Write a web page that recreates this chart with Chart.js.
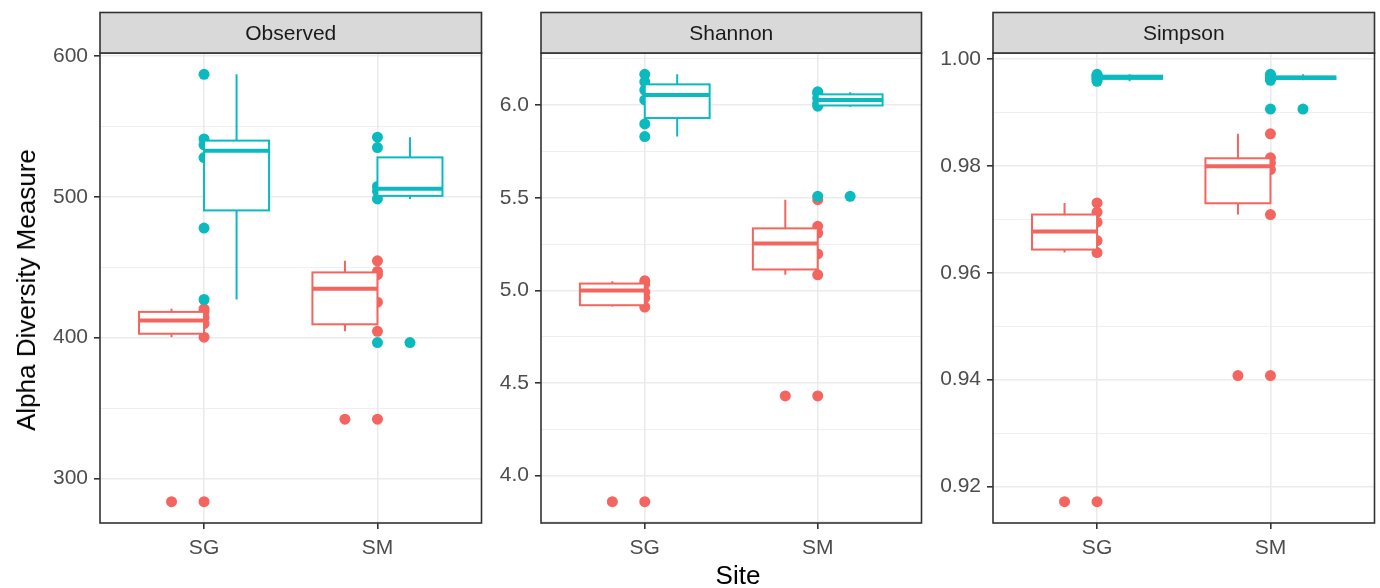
<!DOCTYPE html>
<html>
<head>
<meta charset="utf-8">
<script src="https://cdn.jsdelivr.net/npm/chart.js@4.4.1/dist/chart.umd.min.js"></script>
<style>
  body { margin: 0; background: #fff; width: 1380px; height: 588px; overflow: hidden; position: relative; font-family: "Liberation Sans", Arial, sans-serif; }
  canvas { position: absolute; top: 0; }
  #ytitle { position: absolute; left: 26px; top: 290px; transform: translate(-50%, -50%) rotate(-90deg); font-size: 26px; white-space: nowrap; line-height: 1; color: #000; }
  #xtitle { position: absolute; left: 738px; top: 575px; transform: translate(-50%, -50%); font-size: 26px; line-height: 1; color: #000; }
</style>
</head>
<body>
<canvas id="observed"></canvas>
<canvas id="shannon"></canvas>
<canvas id="simpson"></canvas>
<div id="ytitle">Alpha Diversity Measure</div>
<div id="xtitle">Site</div>
<script>
const SITES = ['SG', 'SM'];
const COLORS = ['#F3655E', '#0BBABF'];

// Observed  (each inner array: SG, SM)
const observedTicks = [300, 400, 500, 600];
const observedRedPts = [[420.5, 418.5, 414.4, 410.0, 400.4, 283.7], [454.5, 447.0, 444.8, 425.2, 404.5, 342.2]];
const observedTealPts = [[586.8, 541.0, 536.8, 527.8, 477.8, 427.1], [542.2, 534.9, 507.3, 503.8, 498.4, 396.5]];
// box stats: lower whisker, q1, median, q3, upper whisker
const observedRedBox = [[400.4, 402.8, 412.2, 418.3, 420.5], [404.5, 409.5, 434.8, 446.3, 454.5]];
const observedTealBox = [[427.1, 490.3, 532.6, 539.8, 586.8], [498.4, 500.6, 505.6, 527.9, 542.2]];
const observedRedOut = [[283.7], [342.2]];
const observedTealOut = [[], [396.5]];

// Shannon
const shannonTicks = [4.0, 4.5, 5.0, 5.5, 6.0];
const shannonRedPts = [[5.052, 5.035, 4.990, 4.960, 4.910, 3.859], [5.490, 5.346, 5.310, 5.197, 5.084, 4.430]];
const shannonTealPts = [[6.167, 6.127, 6.082, 6.029, 5.899, 5.831], [6.073, 6.065, 6.038, 6.011, 5.995, 5.508]];
const shannonRedBox = [[4.913, 4.920, 5.000, 5.037, 5.050], [5.084, 5.113, 5.254, 5.335, 5.490]];
const shannonTealBox = [[5.831, 5.931, 6.055, 6.113, 6.167], [5.992, 5.999, 6.029, 6.059, 6.070]];
const shannonRedOut = [[3.859], [4.430]];
const shannonTealOut = [[], [5.508]];

// Simpson
const simpsonTicks = [0.92, 0.94, 0.96, 0.98, 1.00];
const simpsonRedPts = [[0.97306, 0.97132, 0.96945, 0.96601, 0.96377, 0.91718], [0.98597, 0.98150, 0.98050, 0.97930, 0.97088, 0.94076]];
const simpsonTealPts = [[0.9971, 0.9969, 0.9967, 0.9965, 0.9962, 0.9958], [0.9971, 0.9968, 0.9966, 0.9963, 0.9960, 0.9906]];
const simpsonRedBox = [[0.96377, 0.96433, 0.96773, 0.97088, 0.97306], [0.97088, 0.97299, 0.97990, 0.98140, 0.98597]];
const simpsonTealBox = [[0.9958, 0.99625, 0.99660, 0.99685, 0.9971], [0.9960, 0.99625, 0.99645, 0.99670, 0.9971]];
const simpsonRedOut = [[0.91718], [0.94076]];
const simpsonTealOut = [[], [0.9906]];

const DODGE = 0.1875;
const Y_AXIS_W = 70;
const STRIP_TOP = 12.5;
const PLOT_TOP = 53;
const PLOT_BOTTOM = 523;
const X_AXIS_H = 40;

Chart.defaults.font.family = '"Liberation Sans", Arial, sans-serif';

const boxPlugin = {
  id: 'ggbox',
  afterDatasetsDraw(chart, args, opts) {
    const { ctx, chartArea: a, scales: { x, y } } = chart;
    ctx.save();
    ctx.beginPath();
    ctx.rect(a.left, a.top, a.width, a.height);
    ctx.clip();
    ctx.lineCap = 'butt';
    opts.boxes.forEach((groupBoxes, g) => {
      const off = g === 0 ? -DODGE : DODGE;
      groupBoxes.forEach((b, s) => {
        const cx = s + 1 + off;
        const px = x.getPixelForValue(cx);
        const xl = x.getPixelForValue(cx - DODGE);
        const xr = x.getPixelForValue(cx + DODGE);
        const [lo, q1, med, q3, hi] = b.map(v => y.getPixelForValue(v));
        ctx.strokeStyle = COLORS[g];
        ctx.lineWidth = 2;
        ctx.beginPath();
        ctx.moveTo(px, q3); ctx.lineTo(px, hi);
        ctx.moveTo(px, q1); ctx.lineTo(px, lo);
        ctx.stroke();
        ctx.fillStyle = '#fff';
        ctx.fillRect(xl, q3, xr - xl, q1 - q3);
        ctx.strokeRect(xl, q3, xr - xl, q1 - q3);
        ctx.lineWidth = 4;
        ctx.beginPath();
        ctx.moveTo(xl, med); ctx.lineTo(xr, med);
        ctx.stroke();
      });
    });
    ctx.restore();
  },
  afterDraw(chart, args, opts) {
    const { ctx, chartArea: a } = chart;
    ctx.save();
    ctx.strokeStyle = '#333333';
    ctx.lineWidth = 1.6;
    ctx.strokeRect(a.left, a.top, a.width, a.bottom - a.top);
    ctx.fillStyle = '#D9D9D9';
    ctx.fillRect(a.left, STRIP_TOP, a.width, a.top - STRIP_TOP);
    ctx.strokeRect(a.left, STRIP_TOP, a.width, a.top - STRIP_TOP);
    ctx.fillStyle = '#1A1A1A';
    ctx.font = '21px "Liberation Sans", Arial, sans-serif';
    ctx.textAlign = 'center';
    ctx.textBaseline = 'middle';
    ctx.fillText(opts.title, (a.left + a.right) / 2, (STRIP_TOP + a.top) / 2 + 1);
    ctx.restore();
  }
};

function near(a, b) { return Math.abs(a - b) < 1e-9; }

function makePanel(id, title, plotLeft, plotRight, ticks, digits, redPts, tealPts, redBox, tealBox, redOut, tealOut) {
  const all = redPts.flat().concat(tealPts.flat());
  const lo = Math.min(...all), hi = Math.max(...all);
  const pad = (hi - lo) * 0.05;
  const step = ticks[1] - ticks[0];
  const gridVals = [];
  for (let i = -1; i < ticks.length; i++) {
    if (i >= 0) gridVals.push(ticks[i]);
    const m = (i >= 0 ? ticks[i] : ticks[0] - step) + step / 2;
    if (m > lo - pad && m < hi + pad) gridVals.push(m);
  }
  gridVals.sort((p, q) => p - q);
  const isMajor = v => ticks.some(t => near(t, v));

  const canvas = document.getElementById(id);
  canvas.width = Y_AXIS_W + (plotRight - plotLeft) + 3;
  canvas.height = 588;
  canvas.style.left = (plotLeft - Y_AXIS_W) + 'px';

  const pts = (vals, xv) => vals.map(v => ({ x: xv, y: v }));
  const datasets = [];
  // teal first so it sits on top of red
  [[tealPts, 1], [redPts, 0]].forEach(([set, g]) => {
    datasets.push({
      data: set.flatMap((vals, s) => pts(vals, s + 1)),
      backgroundColor: COLORS[g], borderWidth: 0, pointRadius: 5.5, pointHoverRadius: 5.5
    });
  });
  [[redOut, 0], [tealOut, 1]].forEach(([set, g]) => {
    const off = g === 0 ? -DODGE : DODGE;
    datasets.push({
      data: set.flatMap((vals, s) => pts(vals, s + 1 + off)),
      backgroundColor: COLORS[g], borderWidth: 0, pointRadius: 5.5, pointHoverRadius: 5.5
    });
  });

  new Chart(canvas, {
    type: 'scatter',
    data: { datasets },
    plugins: [boxPlugin],
    options: {
      responsive: false,
      animation: false,
      events: [],
      layout: { padding: { left: 0, right: 3, top: PLOT_TOP, bottom: 588 - PLOT_BOTTOM - X_AXIS_H } },
      plugins: {
        legend: { display: false },
        tooltip: { enabled: false },
        ggbox: { boxes: [redBox, tealBox], title }
      },
      scales: {
        x: {
          type: 'linear', min: 0.4, max: 2.6,
          afterBuildTicks: s => { s.ticks = SITES.map((_, i) => ({ value: i + 1 })); },
          afterFit: s => { s.height = X_AXIS_H; },
          border: { display: false },
          grid: { color: '#EBEBEB', lineWidth: 1.6, tickColor: '#333333', tickLength: 6, tickWidth: 1.6 },
          ticks: { autoSkip: false, maxRotation: 0, padding: 7, color: '#4D4D4D', font: { size: 21 },
                   callback: v => SITES[Math.round(v) - 1] }
        },
        y: {
          type: 'linear', min: lo - pad, max: hi + pad,
          afterBuildTicks: s => { s.ticks = gridVals.map(v => ({ value: v })); },
          afterFit: s => { s.width = Y_AXIS_W; },
          border: { display: false },
          grid: {
            color: '#EBEBEB',
            lineWidth: c => (c.tick && isMajor(c.tick.value)) ? 1.6 : 0.8,
            tickColor: c => (c.tick && isMajor(c.tick.value)) ? '#333333' : 'rgba(0,0,0,0)',
            tickLength: 6, tickWidth: 1.6
          },
          ticks: { autoSkip: false, padding: 6, color: '#4D4D4D', font: { size: 21 },
                   callback: v => isMajor(v) ? v.toFixed(digits) : '' }
        }
      }
    }
  });
}

makePanel('observed', 'Observed', 100, 484, observedTicks, 0, observedRedPts, observedTealPts, observedRedBox, observedTealBox, observedRedOut, observedTealOut);
makePanel('shannon', 'Shannon', 541, 924, shannonTicks, 1, shannonRedPts, shannonTealPts, shannonRedBox, shannonTealBox, shannonRedOut, shannonTealOut);
makePanel('simpson', 'Simpson', 993, 1377, simpsonTicks, 2, simpsonRedPts, simpsonTealPts, simpsonRedBox, simpsonTealBox, simpsonRedOut, simpsonTealOut);
</script>
</body>
</html>
